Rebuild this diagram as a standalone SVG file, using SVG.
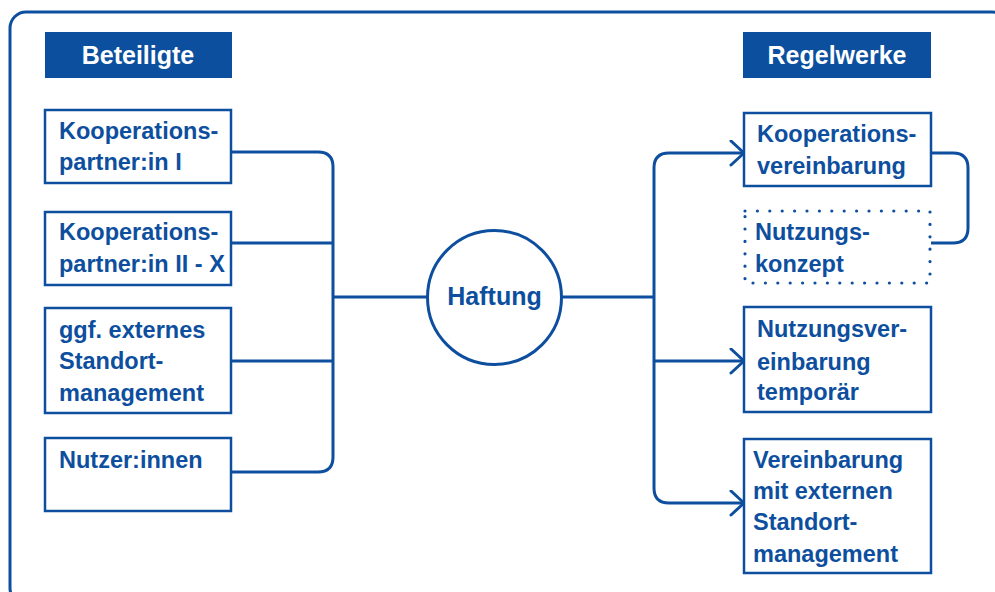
<svg xmlns="http://www.w3.org/2000/svg" width="995" height="592" viewBox="0 0 995 592">
<defs>
<style>
.box{fill:#fff;stroke:#0d4f9e;stroke-width:2.5}
.dot{fill:none;stroke:#0d4f9e;stroke-width:3.2;stroke-linecap:round;stroke-dasharray:0 12.4}
.hdr{fill:#0b4f9e}
.t{font-family:"Liberation Sans",Arial,sans-serif;font-weight:bold;font-size:23.5px;fill:#0d4f9e}
.ht{font-family:"Liberation Sans",Arial,sans-serif;font-weight:bold;font-size:25px;fill:#fff;text-anchor:middle}
.ln{fill:none;stroke:#0d4f9e;stroke-width:3;stroke-linejoin:round}
</style>
<marker id="arr" markerWidth="20" markerHeight="30" refX="16" refY="13" orient="auto" markerUnits="userSpaceOnUse" viewBox="0 0 20 30">
<path d="M3,1 L16,13 L3,25" fill="none" stroke="#0d4f9e" stroke-width="3" stroke-linecap="round" stroke-linejoin="round"/>
</marker>
</defs>
<rect width="995" height="592" fill="#fff"/>
<rect x="10" y="12" width="998" height="592" rx="16" fill="none" stroke="#0d4f9e" stroke-width="3"/>

<g id="connectors">
<path class="ln" d="M231,152 H318 Q333,152 333,167 V457 Q333,472 318,472 H231"/>
<path class="ln" d="M231,243 H333"/>
<path class="ln" d="M231,361 H333"/>
<path class="ln" d="M333,297 H427"/>
<path class="ln" d="M562,297 H654"/>
<path class="ln" d="M654,297 V168 Q654,153 669,153 H744" marker-end="url(#arr)"/>
<path class="ln" d="M654,297 V488 Q654,503 669,503 H744" marker-end="url(#arr)"/>
<path class="ln" d="M654,361 H744" marker-end="url(#arr)"/>
<path class="ln" d="M931,153 H953 Q968,153 968,168 V228 Q968,243 953,243 H931"/>
</g>

<g id="hdr-beteiligte">
<rect class="hdr" x="45" y="32" width="187" height="46"/>
<text class="ht" x="138" y="64">Beteiligte</text>
</g>
<g id="hdr-regelwerke">
<rect class="hdr" x="743" y="32" width="188" height="46"/>
<text class="ht" x="837" y="64">Regelwerke</text>
</g>

<g id="b1">
<rect class="box" x="45" y="110" width="186" height="73"/>
<text class="t" x="59" y="139">Kooperations-</text>
<text class="t" x="59" y="170">partner:in I</text>
</g>
<g id="b2">
<rect class="box" x="45" y="212" width="186" height="73"/>
<text class="t" x="59" y="240">Kooperations-</text>
<text class="t" x="59" y="272">partner:in II - X</text>
</g>
<g id="b3">
<rect class="box" x="45" y="308" width="186" height="105"/>
<text class="t" x="59" y="338">ggf. externes</text>
<text class="t" x="59" y="369">Standort-</text>
<text class="t" x="59" y="401">management</text>
</g>
<g id="b4">
<rect class="box" x="45" y="438" width="186" height="73"/>
<text class="t" x="59" y="468">Nutzer:innen</text>
</g>

<g id="haftung">
<circle cx="494.5" cy="297.5" r="67" fill="#fff" stroke="#0d4f9e" stroke-width="3"/>
<text class="t" x="494.5" y="305" text-anchor="middle" style="font-size:25px">Haftung</text>
</g>

<g id="r1">
<rect class="box" x="744" y="113" width="187" height="73"/>
<text class="t" x="757" y="142">Kooperations-</text>
<text class="t" x="757" y="174">vereinbarung</text>
</g>
<g id="r2">
<rect class="dot" x="745" y="211" width="185" height="72"/>
<text class="t" x="755" y="240">Nutzungs-</text>
<text class="t" x="755" y="272">konzept</text>
</g>
<g id="r3">
<rect class="box" x="744" y="307" width="187" height="105"/>
<text class="t" x="757" y="337">Nutzungsver-</text>
<text class="t" x="757" y="370">einbarung</text>
<text class="t" x="757" y="400">temporär</text>
</g>
<g id="r4">
<rect class="box" x="744" y="439" width="187" height="134"/>
<text class="t" x="753" y="468">Vereinbarung</text>
<text class="t" x="753" y="499">mit externen</text>
<text class="t" x="753" y="530">Standort-</text>
<text class="t" x="753" y="562">management</text>
</g>
</svg>
